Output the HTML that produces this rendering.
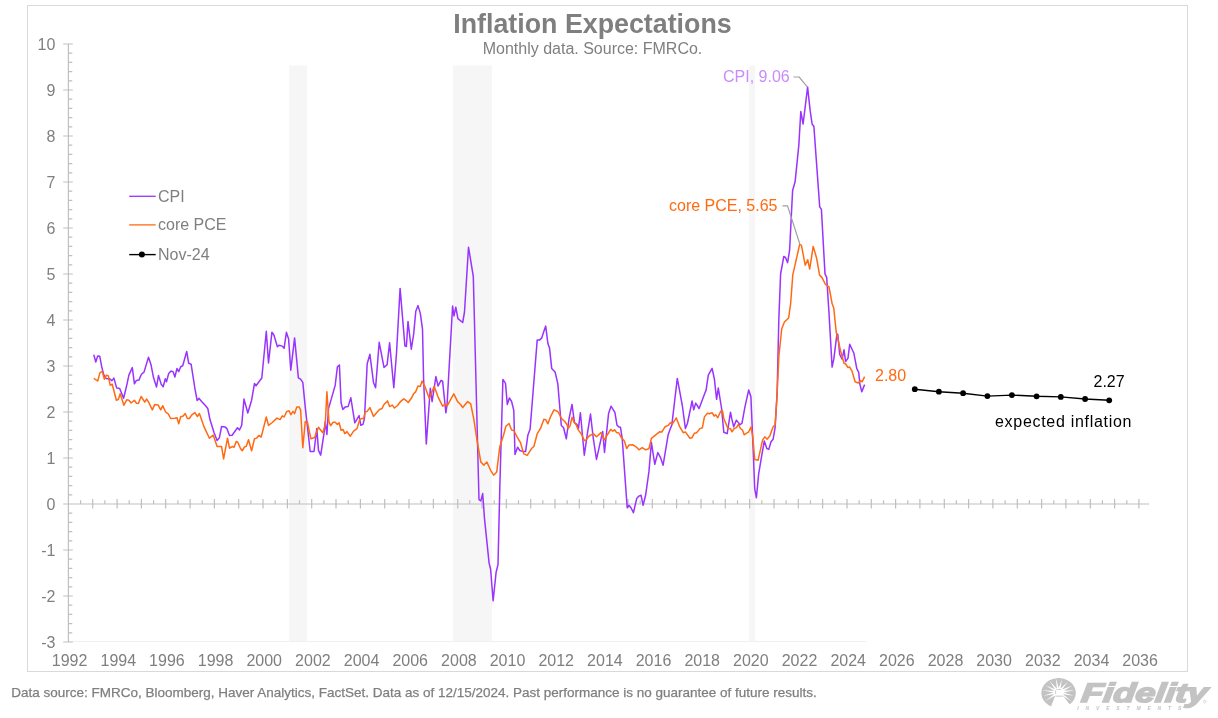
<!DOCTYPE html>
<html><head><meta charset="utf-8">
<style>
html,body{margin:0;padding:0;background:#fff;}
body{width:1218px;height:718px;overflow:hidden;}
svg{display:block;will-change:transform;}
text{font-family:"Liberation Sans",sans-serif;}
.lab{font-size:16px;fill:#7f7f7f;}
.blk{font-size:16px;fill:#000;}
.title{font-size:26.8px;font-weight:bold;fill:#7f7f7f;}
.sub{font-size:16px;fill:#7f7f7f;}
.foot{font-size:13.3px;fill:#7f7f7f;stroke:#7f7f7f;stroke-width:0.25px;}
.fid{font-size:26.8px;font-weight:bold;font-style:italic;}
.inv{font-size:5px;font-weight:bold;font-style:italic;}
</style></head>
<body>
<svg width="1218" height="718" viewBox="0 0 1218 718">
<rect x="27.5" y="5.5" width="1160" height="666" fill="none" stroke="#d9d9d9" stroke-width="1"/>
<rect x="289.2" y="65.5" width="17.7" height="575.5" fill="#f6f6f6"/>
<rect x="453.1" y="65.5" width="38.7" height="575.5" fill="#f6f6f6"/>
<rect x="749.2" y="65.5" width="5.9" height="575.5" fill="#f6f6f6"/>
<line x1="68.4" y1="641.5" x2="866" y2="641.5" stroke="#f0f0f0" stroke-width="1"/>
<path d="M68.4,44.4V642M63.2,642.0H72.8M63.2,596.0H72.8M63.2,550.0H72.8M63.2,504.0H72.8M63.2,458.0H72.8M63.2,412.0H72.8M63.2,366.0H72.8M63.2,320.0H72.8M63.2,274.0H72.8M63.2,228.0H72.8M63.2,182.0H72.8M63.2,136.0H72.8M63.2,90.0H72.8M63.2,44.0H72.8M68.4,632.8H72.3M68.4,623.6H72.3M68.4,614.4H72.3M68.4,605.2H72.3M68.4,586.8H72.3M68.4,577.6H72.3M68.4,568.4H72.3M68.4,559.2H72.3M68.4,540.8H72.3M68.4,531.6H72.3M68.4,522.4H72.3M68.4,513.2H72.3M68.4,494.8H72.3M68.4,485.6H72.3M68.4,476.4H72.3M68.4,467.2H72.3M68.4,448.8H72.3M68.4,439.6H72.3M68.4,430.4H72.3M68.4,421.2H72.3M68.4,402.8H72.3M68.4,393.6H72.3M68.4,384.4H72.3M68.4,375.2H72.3M68.4,356.8H72.3M68.4,347.6H72.3M68.4,338.4H72.3M68.4,329.2H72.3M68.4,310.8H72.3M68.4,301.6H72.3M68.4,292.4H72.3M68.4,283.2H72.3M68.4,264.8H72.3M68.4,255.6H72.3M68.4,246.4H72.3M68.4,237.2H72.3M68.4,218.8H72.3M68.4,209.6H72.3M68.4,200.4H72.3M68.4,191.2H72.3M68.4,172.8H72.3M68.4,163.6H72.3M68.4,154.4H72.3M68.4,145.2H72.3M68.4,126.8H72.3M68.4,117.6H72.3M68.4,108.4H72.3M68.4,99.2H72.3M68.4,80.8H72.3M68.4,71.6H72.3M68.4,62.4H72.3M68.4,53.2H72.3M63.2,504H1149M92.7,499.1V508.5M117.1,499.1V508.5M141.4,499.1V508.5M165.7,499.1V508.5M190.1,499.1V508.5M214.4,499.1V508.5M238.7,499.1V508.5M263.0,499.1V508.5M287.4,499.1V508.5M311.7,499.1V508.5M336.0,499.1V508.5M360.4,499.1V508.5M384.7,499.1V508.5M409.0,499.1V508.5M433.4,499.1V508.5M457.7,499.1V508.5M482.0,499.1V508.5M506.3,499.1V508.5M530.7,499.1V508.5M555.0,499.1V508.5M579.3,499.1V508.5M603.7,499.1V508.5M628.0,499.1V508.5M652.3,499.1V508.5M676.6,499.1V508.5M701.0,499.1V508.5M725.3,499.1V508.5M749.6,499.1V508.5M774.0,499.1V508.5M798.3,499.1V508.5M822.6,499.1V508.5M847.0,499.1V508.5M871.3,499.1V508.5M895.6,499.1V508.5M919.9,499.1V508.5M944.3,499.1V508.5M968.6,499.1V508.5M992.9,499.1V508.5M1017.3,499.1V508.5M1041.6,499.1V508.5M1065.9,499.1V508.5M1090.3,499.1V508.5M1114.6,499.1V508.5M1138.9,499.1V508.5M80.6,500.2V504M104.9,500.2V504M129.2,500.2V504M153.6,500.2V504M177.9,500.2V504M202.2,500.2V504M226.5,500.2V504M250.9,500.2V504M275.2,500.2V504M299.5,500.2V504M323.9,500.2V504M348.2,500.2V504M372.5,500.2V504M396.9,500.2V504M421.2,500.2V504M445.5,500.2V504M469.8,500.2V504M494.2,500.2V504M518.5,500.2V504M542.8,500.2V504M567.2,500.2V504M591.5,500.2V504M615.8,500.2V504M640.2,500.2V504M664.5,500.2V504M688.8,500.2V504M713.1,500.2V504M737.5,500.2V504M761.8,500.2V504M786.1,500.2V504M810.5,500.2V504M834.8,500.2V504M859.1,500.2V504M883.5,500.2V504M907.8,500.2V504M932.1,500.2V504M956.4,500.2V504M980.8,500.2V504M1005.1,500.2V504M1029.4,500.2V504M1053.8,500.2V504M1078.1,500.2V504M1102.4,500.2V504M1126.8,500.2V504" stroke="#bfbfbf" stroke-width="1.2" fill="none"/>
<text x="55.4" y="647.8" text-anchor="end" class="lab">-3</text>
<text x="55.4" y="601.8" text-anchor="end" class="lab">-2</text>
<text x="55.4" y="555.8" text-anchor="end" class="lab">-1</text>
<text x="55.4" y="509.8" text-anchor="end" class="lab">0</text>
<text x="55.4" y="463.8" text-anchor="end" class="lab">1</text>
<text x="55.4" y="417.8" text-anchor="end" class="lab">2</text>
<text x="55.4" y="371.8" text-anchor="end" class="lab">3</text>
<text x="55.4" y="325.8" text-anchor="end" class="lab">4</text>
<text x="55.4" y="279.8" text-anchor="end" class="lab">5</text>
<text x="55.4" y="233.8" text-anchor="end" class="lab">6</text>
<text x="55.4" y="187.8" text-anchor="end" class="lab">7</text>
<text x="55.4" y="141.8" text-anchor="end" class="lab">8</text>
<text x="55.4" y="95.8" text-anchor="end" class="lab">9</text>
<text x="55.4" y="49.8" text-anchor="end" class="lab">10</text>
<text x="69.6" y="666.2" text-anchor="middle" class="lab">1992</text>
<text x="118.3" y="666.2" text-anchor="middle" class="lab">1994</text>
<text x="166.9" y="666.2" text-anchor="middle" class="lab">1996</text>
<text x="215.6" y="666.2" text-anchor="middle" class="lab">1998</text>
<text x="264.2" y="666.2" text-anchor="middle" class="lab">2000</text>
<text x="312.9" y="666.2" text-anchor="middle" class="lab">2002</text>
<text x="361.6" y="666.2" text-anchor="middle" class="lab">2004</text>
<text x="410.2" y="666.2" text-anchor="middle" class="lab">2006</text>
<text x="458.9" y="666.2" text-anchor="middle" class="lab">2008</text>
<text x="507.5" y="666.2" text-anchor="middle" class="lab">2010</text>
<text x="556.2" y="666.2" text-anchor="middle" class="lab">2012</text>
<text x="604.9" y="666.2" text-anchor="middle" class="lab">2014</text>
<text x="653.5" y="666.2" text-anchor="middle" class="lab">2016</text>
<text x="702.2" y="666.2" text-anchor="middle" class="lab">2018</text>
<text x="750.8" y="666.2" text-anchor="middle" class="lab">2020</text>
<text x="799.5" y="666.2" text-anchor="middle" class="lab">2022</text>
<text x="848.2" y="666.2" text-anchor="middle" class="lab">2024</text>
<text x="896.8" y="666.2" text-anchor="middle" class="lab">2026</text>
<text x="945.5" y="666.2" text-anchor="middle" class="lab">2028</text>
<text x="994.1" y="666.2" text-anchor="middle" class="lab">2030</text>
<text x="1042.8" y="666.2" text-anchor="middle" class="lab">2032</text>
<text x="1091.5" y="666.2" text-anchor="middle" class="lab">2034</text>
<text x="1140.1" y="666.2" text-anchor="middle" class="lab">2036</text>
<polyline points="93.8,354.7 95.8,362.0 97.7,355.9 99.7,356.2 101.7,366.7 103.4,373.4 105.0,377.6 107.2,378.8 109.7,378.8 111.9,380.6 113.9,378.1 116.7,388.1 119.7,388.5 123.6,398.2 126.4,386.8 128.9,375.1 132.3,367.6 134.4,383.8 136.4,380.4 138.9,380.1 141.4,374.3 144.0,372.1 148.5,357.2 151.1,365.1 153.5,377.6 156.5,387.1 158.5,375.4 161.2,384.3 163.2,386.8 165.3,378.8 166.5,381.7 168.7,373.4 171.0,370.9 173.2,372.0 174.9,377.0 177.0,368.4 178.7,371.7 180.7,366.7 182.7,365.8 186.7,351.5 188.7,363.3 191.1,364.2 194.9,388.4 197.1,400.4 199.1,398.4 201.6,401.4 204.9,405.1 207.8,408.5 209.9,419.3 214.1,432.7 217.1,440.5 219.4,437.7 221.6,426.5 225.0,426.9 227.1,428.9 229.5,435.6 232.1,435.3 237.5,427.7 239.5,429.9 241.7,425.2 244.0,399.1 247.8,413.0 251.6,400.2 254.5,383.5 256.0,385.8 261.8,378.0 266.3,331.2 268.5,363.0 271.9,332.3 273.9,335.0 277.4,346.8 279.0,345.2 282.3,346.1 284.1,348.3 286.4,332.3 288.6,339.0 290.8,370.2 294.6,337.9 298.4,378.0 300.6,379.1 302.8,382.4 305.3,407.6 310.2,451.5 314.0,451.5 316.8,428.6 318.5,450.4 320.7,455.1 324.0,433.3 325.2,421.6 326.9,434.5 328.5,408.6 331.9,396.9 335.2,385.2 337.4,366.8 339.4,365.1 341.1,402.7 342.8,409.4 345.3,406.9 348.1,406.6 350.8,397.7 354.8,422.8 359.1,415.6 360.8,425.3 363.0,424.4 364.5,418.1 367.2,363.7 369.9,354.3 373.5,382.5 375.6,387.7 379.2,342.3 384.0,367.4 387.1,364.7 389.6,342.8 393.8,387.7 396.5,353.2 400.1,288.4 404.9,345.9 406.4,346.5 408.0,321.4 411.3,349.2 413.6,334.6 415.8,311.2 418.0,305.6 420.3,313.4 422.5,329.1 423.6,379.3 426.3,444.0 430.3,388.2 432.1,401.6 435.9,376.6 438.1,386.0 441.0,380.4 442.6,381.1 445.9,412.8 447.1,403.8 452.6,306.1 454.0,315.9 455.8,307.2 457.9,318.6 462.7,322.5 464.5,312.0 468.5,247.2 473.3,276.3 479.0,499.7 480.8,500.9 482.7,493.6 484.5,518.7 489.1,563.1 490.6,569.2 493.1,600.8 496.1,572.3 498.0,564.6 499.8,488.0 502.9,379.4 505.5,383.3 507.3,404.6 509.4,398.0 511.6,401.5 513.8,410.4 515.0,454.6 517.6,447.2 519.8,450.5 523.4,451.6 525.6,451.6 527.9,434.9 530.1,429.3 537.2,340.1 539.5,340.1 541.7,337.9 543.9,331.2 545.7,326.1 547.9,343.5 549.5,347.9 551.7,368.4 555.1,372.0 557.8,383.6 561.3,425.5 563.6,427.8 566.3,438.8 569.0,419.0 572.0,404.4 574.5,422.9 577.0,424.5 578.4,428.7 580.4,412.7 584.3,455.2 587.8,430.8 590.5,414.1 593.3,438.5 596.5,459.4 599.6,445.4 602.7,431.5 604.5,452.4 608.6,413.4 611.0,406.2 614.9,412.3 617.0,425.2 619.1,427.1 620.5,427.3 622.2,438.4 627.2,507.8 628.9,505.3 631.0,507.8 633.4,512.8 636.7,498.6 638.9,496.1 641.1,495.3 643.1,505.3 645.6,495.3 648.9,471.9 651.4,442.6 654.8,464.3 657.8,452.6 660.6,457.7 663.1,465.2 668.1,435.1 670.1,429.2 671.8,425.1 677.3,378.4 680.4,395.1 682.4,406.0 685.4,428.6 687.4,423.5 692.1,401.0 693.7,409.8 695.7,403.1 699.1,408.5 704.9,393.1 706.1,390.1 708.3,375.1 712.1,368.4 714.4,379.2 716.6,399.3 718.3,388.1 721.6,408.5 723.8,432.2 727.2,433.6 730.5,412.2 731.7,418.4 733.7,426.8 736.4,420.1 738.4,422.6 740.0,424.8 742.0,423.1 745.0,406.7 748.7,390.0 750.9,396.7 753.4,455.2 754.7,488.6 756.4,497.8 758.7,473.6 761.8,455.2 764.3,441.0 766.8,448.5 768.8,449.4 771.0,441.8 773.1,439.3 775.1,427.6 777.1,393.4 778.8,320.5 780.6,274.0 783.8,256.4 785.6,257.7 787.6,262.7 789.6,250.2 792.6,190.5 795.1,181.8 798.8,145.4 800.8,111.5 803.1,124.0 807.6,87.1 810.1,110.2 812.1,124.0 813.9,126.5 819.7,206.9 821.4,209.4 825.0,273.9 826.7,277.4 829.0,313.0 832.1,367.1 833.8,359.2 836.9,334.3 837.8,334.3 839.7,354.5 842.1,359.2 844.0,349.8 845.6,361.6 848.0,358.1 849.7,344.3 853.9,353.3 856.8,368.7 858.7,372.3 859.9,384.1 861.8,391.7 864.6,384.6" fill="none" stroke="#9933ff" stroke-width="1.5" stroke-linejoin="round"/>
<polyline points="93.8,378.4 97.7,381.0 100.0,372.6 102.2,371.4 104.4,379.3 106.4,375.1 108.4,375.9 110.1,385.1 112.2,384.3 116.4,400.2 118.4,399.3 120.2,393.8 123.9,405.2 126.7,399.8 128.9,400.2 131.1,403.0 134.4,400.2 136.4,403.2 138.4,403.5 141.1,396.5 144.8,402.2 146.5,399.0 148.9,402.7 152.3,409.9 154.8,404.4 158.1,404.9 160.7,409.9 162.8,405.7 165.7,412.2 168.2,413.8 170.7,418.5 174.9,418.2 177.0,417.7 178.7,423.8 180.7,416.8 183.2,416.0 185.2,413.5 187.4,418.5 189.4,418.5 191.6,415.2 194.9,412.6 197.4,416.5 199.4,413.5 204.1,426.9 209.4,438.2 213.3,435.2 217.1,446.4 221.6,446.6 223.6,458.9 227.5,438.2 229.5,448.2 232.5,446.5 234.1,447.2 236.2,441.5 237.8,442.2 240.5,448.5 242.2,450.8 244.5,447.0 246.2,446.4 248.5,439.7 251.6,450.8 254.5,438.8 256.7,438.1 258.9,435.5 261.2,437.0 266.3,417.0 268.5,425.4 272.3,422.5 276.8,418.1 280.1,419.6 282.3,415.8 284.1,417.0 286.8,411.4 289.0,410.7 290.8,414.7 293.0,411.4 294.6,413.6 296.8,406.9 299.1,406.9 300.6,409.8 302.8,447.7 305.3,421.4 307.3,421.4 310.9,438.8 314.7,437.5 316.0,433.6 318.5,427.3 322.7,432.8 325.2,425.3 326.9,391.8 329.0,421.9 330.7,425.6 333.1,422.3 335.2,422.3 337.4,424.4 339.1,422.8 341.1,430.3 343.1,429.5 344.8,433.6 346.9,431.6 350.3,436.2 353.6,431.1 357.0,428.6 359.8,419.4 362.0,418.6 363.7,418.6 365.1,412.2 367.2,411.4 369.9,407.6 373.5,416.4 376.6,412.8 379.8,409.3 381.9,408.7 384.0,404.5 387.5,400.9 389.6,406.6 392.3,405.1 394.4,408.0 397.6,405.5 400.7,401.3 403.8,398.8 405.9,400.3 408.2,402.5 411.3,398.3 413.6,393.8 415.8,391.6 418.0,386.0 420.3,386.4 422.1,381.1 424.7,386.0 429.2,398.3 431.4,393.1 434.3,386.4 438.1,397.1 442.6,406.1 444.8,404.3 447.1,406.1 450.4,399.8 453.8,393.8 457.6,401.6 460.6,404.5 462.7,407.6 467.7,401.6 470.7,403.8 473.8,419.1 476.8,439.0 480.8,462.0 483.9,465.1 486.9,462.0 490.6,470.3 493.7,475.2 496.7,472.1 499.8,446.7 503.5,435.3 505.9,426.2 509.0,423.5 511.6,430.0 513.8,430.5 517.2,437.1 520.5,442.7 523.8,453.9 527.2,455.4 531.7,448.3 533.9,446.5 537.2,433.8 540.6,428.2 543.9,419.3 545.7,419.7 547.9,423.8 550.6,416.6 554.0,409.9 557.8,411.5 561.8,418.9 564.8,421.5 566.9,424.5 568.3,428.4 570.1,425.9 572.0,417.3 573.8,421.8 575.9,424.3 578.4,430.1 581.5,434.3 584.3,440.6 585.9,440.1 589.1,436.0 593.3,433.6 596.5,436.8 601.0,432.6 604.5,439.9 607.2,435.0 610.7,429.4 612.8,431.2 614.6,429.8 616.6,432.6 618.8,432.9 621.3,437.6 624.4,441.0 626.7,448.5 628.9,445.1 633.0,444.8 636.4,447.1 638.9,449.8 642.2,447.6 645.6,449.8 648.9,448.8 651.4,438.4 653.9,436.4 659.5,431.8 661.8,432.1 665.1,426.7 668.1,425.4 670.6,422.6 672.3,424.2 676.3,417.9 679.8,426.9 683.2,432.7 685.4,431.9 689.9,438.3 692.1,437.7 694.4,433.2 696.6,432.7 699.9,428.6 702.4,427.7 704.4,416.9 707.4,413.2 709.4,413.8 712.1,412.7 714.1,416.0 715.8,414.9 717.8,417.7 720.8,411.0 722.5,411.0 723.8,418.5 727.8,428.2 730.4,428.7 732.0,431.8 734.2,428.5 736.4,427.6 738.4,424.3 740.4,428.5 742.5,430.1 744.2,434.8 746.7,433.2 748.7,431.8 750.9,427.1 752.6,435.2 754.7,459.4 758.1,460.2 762.6,440.2 764.8,436.8 767.1,439.3 769.8,436.0 773.1,426.8 775.1,425.1 776.9,398.0 778.9,356.0 781.7,329.0 784.4,322.0 788.6,318.0 790.6,304.0 792.8,274.8 795.9,261.2 799.6,244.6 801.4,245.1 805.2,265.2 807.7,259.7 809.7,269.0 813.2,246.4 816.5,257.7 819.6,275.1 821.9,277.4 825.5,284.5 829.0,286.9 832.1,303.5 833.8,308.3 836.2,332.0 840.9,352.1 844.0,363.3 845.6,364.0 848.0,367.5 849.7,367.1 852.0,371.1 855.1,381.8 858.2,383.0 860.6,380.6 862.2,381.8 864.6,376.6" fill="none" stroke="#ff6a13" stroke-width="1.5" stroke-linejoin="round"/>
<polyline points="914.8,389.2 938.9,391.7 963.1,393.2 987.4,396.1 1011.9,395.1 1036.6,396.3 1060.8,396.9 1085.1,399.0 1109.2,400.3" fill="none" stroke="#000" stroke-width="1.4"/>
<circle cx="914.8" cy="389.2" r="2.9" fill="#000"/>
<circle cx="938.9" cy="391.7" r="2.9" fill="#000"/>
<circle cx="963.1" cy="393.2" r="2.9" fill="#000"/>
<circle cx="987.4" cy="396.1" r="2.9" fill="#000"/>
<circle cx="1011.9" cy="395.1" r="2.9" fill="#000"/>
<circle cx="1036.6" cy="396.3" r="2.9" fill="#000"/>
<circle cx="1060.8" cy="396.9" r="2.9" fill="#000"/>
<circle cx="1085.1" cy="399.0" r="2.9" fill="#000"/>
<circle cx="1109.2" cy="400.3" r="2.9" fill="#000"/>
<polyline points="793.5,77.0 799.2,77.0 807.5,87.1" fill="none" stroke="#a0a0a0" stroke-width="1.2"/>
<polyline points="782.5,205.8 787.5,205.8 800.0,244.5" fill="none" stroke="#a0a0a0" stroke-width="1.2"/>
<text x="723" y="81.9" class="lab" fill="#c98cfb" style="fill:#c98cfb">CPI, 9.06</text>
<text x="669" y="210.9" class="lab" style="fill:#ff6a13">core PCE, 5.65</text>
<text x="875" y="380.5" class="lab" style="fill:#ff6a13">2.80</text>
<text x="1093.5" y="386.8" class="blk">2.27</text>
<text x="995" y="427.1" class="blk" textLength="136.5" lengthAdjust="spacing">expected inflation</text>
<line x1="129.2" y1="196.3" x2="155.7" y2="196.3" stroke="#9933ff" stroke-width="1.3"/>
<line x1="129.2" y1="224.9" x2="155.7" y2="224.9" stroke="#ff6a13" stroke-width="1.3"/>
<line x1="129.2" y1="254.6" x2="155.7" y2="254.6" stroke="#000" stroke-width="1.4"/>
<circle cx="141.9" cy="254.6" r="3" fill="#000"/>
<text x="158" y="201.6" class="lab">CPI</text>
<text x="158" y="230.3" class="lab">core PCE</text>
<text x="158" y="259.6" class="lab">Nov-24</text>
<text x="592.5" y="32.9" text-anchor="middle" class="title">Inflation Expectations</text>
<text x="592.5" y="53.9" text-anchor="middle" class="sub">Monthly data. Source: FMRCo.</text>
<text x="11.2" y="696.7" class="foot" textLength="805.5" lengthAdjust="spacingAndGlyphs">Data source: FMRCo, Bloomberg, Haver Analytics, FactSet. Data as of 12/15/2024. Past performance is no guarantee of future results.</text>

<g>
  <path d="M1051.5,706.7 A17.25,15 0 1 1 1069.6,704.6 L1063.3,696.3 L1055.7,696.3 Z" fill="#c3c3c3"/>
  <path d="M1055.25,690.88L1042.01,690.25L1055.00,692.86ZM1054.97,692.08L1043.43,695.66L1055.40,694.03ZM1055.13,693.39L1045.30,701.06L1056.23,695.06ZM1055.98,689.77L1045.54,685.34L1055.04,691.54ZM1057.16,688.96L1049.44,681.07L1055.61,690.22ZM1058.90,688.67L1055.77,678.02L1056.94,689.06ZM1060.43,689.15L1061.89,679.24L1058.49,688.66ZM1061.64,690.29L1067.68,681.69L1060.12,688.99ZM1062.18,691.66L1072.18,685.67L1061.31,689.87ZM1062.20,692.84L1074.49,690.25L1061.94,690.86ZM1061.80,694.04L1073.67,695.66L1062.23,692.09ZM1060.93,695.10L1071.49,701.08L1062.06,693.44Z" fill="#fff"/>
  <path d="M1056,690 L1062,690 L1063.3,696.3 L1055.7,696.3Z" fill="#fff"/>
  <path d="M1051.5,706.7 L1058.2,689.2" stroke="#fff" stroke-width="1"/>
  <path d="M1055.7,696.2 L1063.3,696.2" stroke="#c3c3c3" stroke-width="1"/>
  <path d="M1051.5,706.7 A17.25,15 0 0 0 1069.6,704.6 L1063.3,696.8 L1055.7,696.8 Z" fill="#fff"/>
  <text x="0" y="0" class="fid" transform="translate(1080.5,702.4) skewX(-7)" textLength="126" lengthAdjust="spacingAndGlyphs" fill="#c3c3c3" stroke="#c3c3c3" stroke-width="1.6">Fidelity</text>
  <circle cx="1204.8" cy="701.6" r="1.3" fill="none" stroke="#c3c3c3" stroke-width="0.6"/>
  <text x="1077.3" y="709.5" class="inv" fill="#c3c3c3" textLength="104" lengthAdjust="spacing">INVESTMENTS</text>
</g>

</svg>
</body></html>
